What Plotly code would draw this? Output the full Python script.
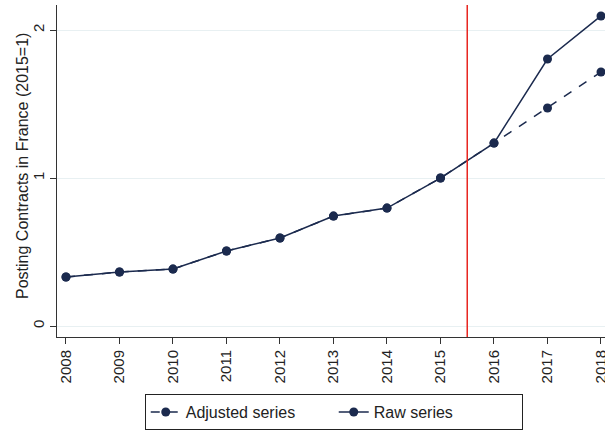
import plotly.graph_objects as go

# Posting contracts in France, indexed to 2015 = 1
years = [2008, 2009, 2010, 2011, 2012, 2013, 2014, 2015, 2016, 2017, 2018]
adjusted = [0.331, 0.365, 0.385, 0.507, 0.595, 0.743, 0.797, 1.0, 1.236, 1.473, 1.716]
raw = [0.331, 0.365, 0.385, 0.507, 0.595, 0.743, 0.797, 1.0, 1.236, 1.804, 2.095]
y_ticks = [0, 1, 2]
break_year = 2015.5
y_title = "Posting Contracts in France (2015=1)"

navy = "#1b2a4e"
font_family = "Liberation Sans, Arial, sans-serif"

fig = go.Figure()
fig.add_trace(go.Scatter(
    x=years, y=adjusted, name="Adjusted series", mode="lines+markers",
    line=dict(color=navy, width=1.5, dash="dash"),
    marker=dict(color=navy, size=9),
    cliponaxis=False,
))
fig.add_trace(go.Scatter(
    x=years, y=raw, name="Raw series", mode="lines+markers",
    line=dict(color=navy, width=1.5),
    marker=dict(color=navy, size=9),
    cliponaxis=False,
))

# vertical marker between 2015 and 2016
fig.add_shape(type="line", x0=break_year, x1=break_year, yref="paper", y0=0, y1=1,
              line=dict(color="#e8251f", width=1.5))

# y-axis title placed as a rotated annotation
fig.add_annotation(text=y_title, textangle=-90, xref="paper", yref="paper",
                   x=-0.064, y=0.515, xanchor="center", yanchor="middle",
                   showarrow=False, font=dict(size=16, color="#222"))

fig.update_layout(
    width=605, height=430,
    margin=dict(l=57, r=0, t=5, b=93, autoexpand=False),
    paper_bgcolor="white", plot_bgcolor="white",
    font=dict(family=font_family, size=15, color="#222"),
    showlegend=True,
    legend=dict(
        orientation="h", x=0.505, xanchor="center", y=-0.172, yanchor="top",
        bordercolor="#222", borderwidth=1, font=dict(size=16),
        traceorder="normal", entrywidth=143, entrywidthmode="pixels",
    ),
    xaxis=dict(
        range=[2007.832, 2018.075], tickvals=years, ticktext=[str(y) for y in years],
        tickangle=-90, ticks="outside", ticklen=6, tickcolor="#333",
        tickfont=dict(size=15), ticklabeloverflow="allow", automargin=False,
        showline=True, linecolor="#333", linewidth=1, showgrid=False, zeroline=False,
    ),
    yaxis=dict(
        range=[-0.074, 2.169], tickvals=y_ticks, ticktext=[str(v) for v in y_ticks],
        tickangle=-90, ticks="outside", ticklen=6, tickcolor="#333",
        tickfont=dict(size=15), automargin=False,
        showline=True, linecolor="#333", linewidth=1,
        showgrid=True, gridcolor="#e8f0f2", gridwidth=1, zeroline=False,
    ),
)

fig.write_html("out.html")
